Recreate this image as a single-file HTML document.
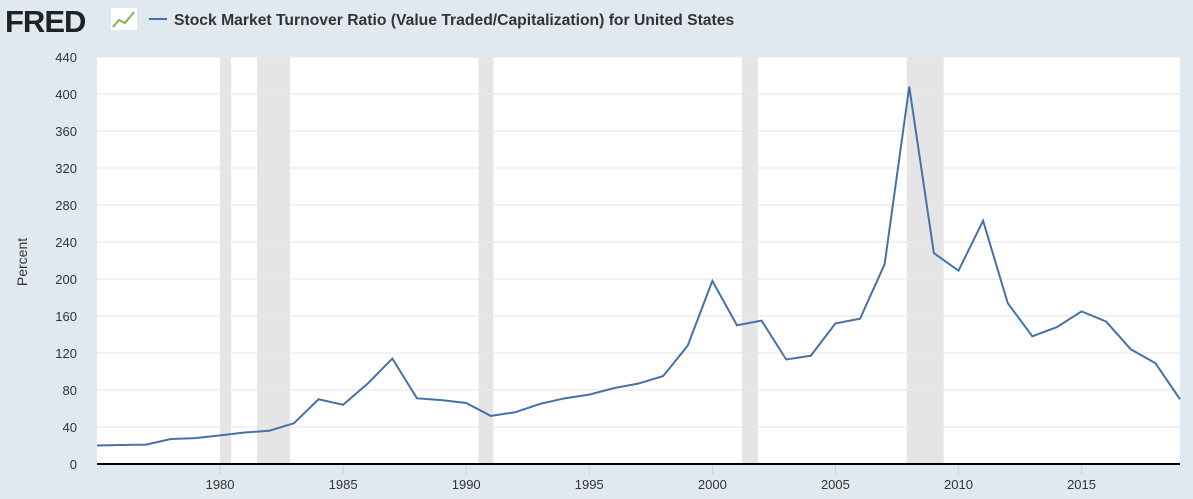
<!DOCTYPE html>
<html><head><meta charset="utf-8"><style>
body{margin:0;background:#e1e9f0;font-family:"Liberation Sans",sans-serif;}
svg{display:block}
</style></head><body>
<svg width="1193" height="499">
<rect x="0" y="0" width="1193" height="499" fill="#e1e9f0"/>
<text x="5" y="32" font-size="31" font-weight="bold" fill="#222" letter-spacing="-1">FRED</text>
<rect x="111" y="8" width="26" height="22" fill="#fff"/>
<polyline points="113,27 119,20 125,23 134,12" fill="none" stroke="#8bb04a" stroke-width="2"/>
<line x1="149" y1="19" x2="167" y2="19" stroke="#4572a7" stroke-width="2"/>
<text x="174" y="25" font-size="15.7" font-weight="bold" fill="#333">Stock Market Turnover Ratio (Value Traded/Capitalization) for United States</text>
<rect x="97" y="57" width="1083" height="407" fill="#fff"/>
<g id="rec"></g><g id="grid"></g><g id="ax"></g>
<polyline id="line" fill="none" stroke="#4572a7" stroke-width="2"/>
<line x1="97" y1="464" x2="1180" y2="464" stroke="#000" stroke-width="2"/>
<text transform="translate(27,262) rotate(-90)" text-anchor="middle" font-size="14" fill="#333">Percent</text>
</svg>
<script>
const years=[1975,1976,1977,1978,1979,1980,1981,1982,1983,1984,1985,1986,1987,1988,1989,1990,1991,1992,1993,1994,1995,1996,1997,1998,1999,2000,2001,2002,2003,2004,2005,2006,2007,2008,2009,2010,2011,2012,2013,2014,2015,2016,2017,2018,2019];
const values=[20,20.5,21,27,28,31,34,36,44,70,64,87,114,71,69,66,52,56,65,71,75,82,87,95,128,198,150,155,113,117,152,157,216,408,228,209,263,174,138,148,165,154,124,109,70];
const yTicks=[0,40,80,120,160,200,240,280,320,360,400,440];
const xTicks=[1980,1985,1990,1995,2000,2005,2010,2015];
const recStarts=[1980.0,1981.5,1990.5,2001.2,2007.9];
const recEnds=[1980.45,1982.85,1991.1,2001.85,2009.4];
const NS='http://www.w3.org/2000/svg';
const X=v=>97+(v-1975)*(1083/44);
const Y=v=>464-v*(407/440);
function mk(t,a,p){const e=document.createElementNS(NS,t);for(const k in a)e.setAttribute(k,a[k]);document.getElementById(p).appendChild(e);return e;}
recStarts.forEach((s,i)=>{const r=mk('rect',{x:X(s),y:57,width:X(recEnds[i])-X(s),height:407,fill:'#e5e5e5'},'rec');

});
yTicks.forEach(t=>{if(t>0){const l=mk('line',{x1:97,x2:1180,y1:Y(t),y2:Y(t),stroke:'#e6e6e6'},'grid');

}
const tx=mk('text',{x:77,y:Y(t)+5,'text-anchor':'end','font-size':13,fill:'#333'},'ax');tx.textContent=t;

});
xTicks.forEach(t=>{const l=mk('line',{x1:X(t),x2:X(t),y1:464,y2:474,stroke:'#ccc'},'ax');


const tx=mk('text',{x:X(t),y:489,'text-anchor':'middle','font-size':13,fill:'#333'},'ax');tx.textContent=t;

});
document.getElementById('line').setAttribute('points',years.map((y,i)=>X(y)+','+Y(values[i])).join(' '));
</script>
</body></html>
